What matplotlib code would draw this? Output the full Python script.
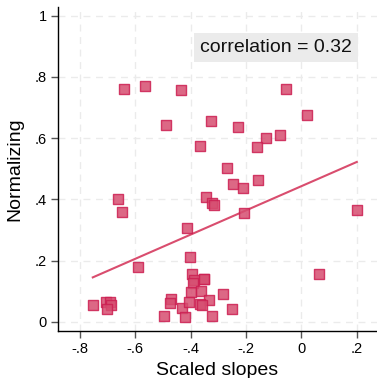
import numpy as np
import matplotlib
matplotlib.use("Agg")
import matplotlib.pyplot as plt

plt.rcParams['font.family'] = ['Liberation Sans', 'DejaVu Sans']

scaled_slopes = [-0.642, -0.566, -0.436, -0.490, -0.326, -0.230, -0.055, 0.020, -0.078, -0.127,
                 -0.161, -0.365, -0.268, -0.248, -0.212, -0.158, -0.345, -0.322, -0.317, -0.208,
                 0.201, -0.664, -0.649, -0.414, -0.401, -0.591, -0.396, -0.389, -0.393, -0.350,
                 -0.350, -0.400, -0.364, -0.332, -0.754, -0.707, -0.691, -0.688, -0.703, -0.472,
                 -0.476, -0.432, -0.407, -0.365, -0.358, -0.496, -0.420, -0.322, 0.064, -0.284,
                 -0.251]
normalizing = [0.761, 0.770, 0.756, 0.642, 0.656, 0.636, 0.761, 0.675, 0.611, 0.600,
               0.570, 0.576, 0.502, 0.451, 0.436, 0.462, 0.407, 0.387, 0.381, 0.356,
               0.366, 0.400, 0.360, 0.306, 0.212, 0.179, 0.156, 0.137, 0.128, 0.141,
               0.141, 0.097, 0.102, 0.072, 0.055, 0.066, 0.066, 0.055, 0.042, 0.074,
               0.063, 0.045, 0.066, 0.060, 0.055, 0.021, 0.015, 0.021, 0.156, 0.091,
               0.042]
x_ticks = [-0.8, -0.6, -0.4, -0.2, 0.0, 0.2]
x_labels = ['-.8', '-.6', '-.4', '-.2', '0', '.2']
y_ticks = [0, 0.2, 0.4, 0.6, 0.8, 1.0]
y_labels = ['0', '.2', '.4', '.6', '.8', '1']
corr_text = 'correlation = 0.32'

x = np.array(scaled_slopes)
y = np.array(normalizing)

fig = plt.figure(figsize=(3.77, 3.78), dpi=100)
ax = fig.add_axes([0.153, 0.124, 0.847, 0.857])

ax.set_xlim(-0.881, 0.274)
ax.set_ylim(-0.030, 1.028)

ax.set_xticks(x_ticks)
ax.set_xticklabels(x_labels)
ax.set_yticks(y_ticks)
ax.set_yticklabels(y_labels)

ax.grid(True, color='#ebebeb', linestyle=(0, (5, 4)), linewidth=1.0)
ax.set_axisbelow(True)

for s in ['top', 'right']:
    ax.spines[s].set_visible(False)
for s in ['left', 'bottom']:
    ax.spines[s].set_color('black')
    ax.spines[s].set_linewidth(1.0)

ax.tick_params(axis='both', direction='out', length=5, width=1.0, color='#555555',
               labelsize=10.5, labelcolor='black', pad=3)

ax.scatter(x, y, marker='s', s=44, facecolor=(0.84, 0.30, 0.44), edgecolor=(0.80, 0.12, 0.32),
           linewidth=1.0, alpha=0.85, zorder=3)

coef = np.polyfit(x, y, 1)
xl = np.array([x.min(), x.max()])
ax.plot(xl, np.polyval(coef, xl), color=(0.85, 0.30, 0.43), linewidth=1.5, zorder=2)

ax.text(0.922, 0.875, corr_text, transform=ax.transAxes, ha='right', va='center',
        fontsize=14, color='#111111',
        bbox=dict(boxstyle='square,pad=0.3', facecolor='#ebebeb', edgecolor='none'))

ax.set_xlabel('Scaled slopes', fontsize=14, labelpad=4)
ax.set_ylabel('Normalizing', fontsize=14, labelpad=8)

fig.savefig('out.png', dpi=100)
